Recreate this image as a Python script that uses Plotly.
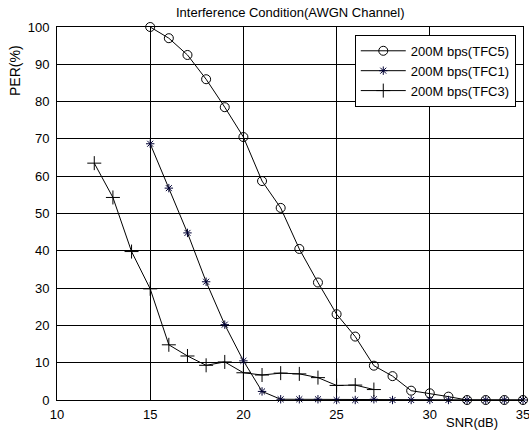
import plotly.graph_objects as go

snr_tfc5 = [15, 16, 17, 18, 19, 20, 21, 22, 23, 24, 25, 26, 27, 28, 29, 30, 31, 32, 33, 34, 35]
per_tfc5 = [100, 97, 92.5, 86, 78.5, 70.5, 58.7, 51.5, 40.5, 31.5, 23, 17, 9.2, 6.4, 2.5, 1.8, 0.9, 0, 0, 0, 0]

snr_tfc1 = [15, 16, 17, 18, 19, 20, 21, 22, 23, 24, 25, 26, 27, 28, 29, 30, 31, 32, 33, 34, 35]
per_tfc1 = [68.7, 56.8, 44.8, 31.7, 20.2, 10.5, 2.3, 0.2, 0.2, 0.2, 0, 0, 0.2, 0, 0, 0, 0, 0, 0, 0, 0]

snr_tfc3 = [12, 13, 14, 15, 16, 17, 18, 19, 20, 21, 22, 23, 24, 25, 26, 27]
per_tfc3 = [63.5, 54.3, 39.8, 29.8, 14.8, 11.8, 9.3, 10.2, 7.3, 6.7, 7.2, 7.0, 6.0, 3.9, 4.0, 2.8]

names = ["200M bps(TFC5)", "200M bps(TFC1)", "200M bps(TFC3)"]
x_ticks = [10, 15, 20, 25, 30, 35]
y_ticks = list(range(0, 101, 10))

fig = go.Figure()
fig.add_trace(go.Scatter(x=snr_tfc5, y=per_tfc5, name=names[0], mode="lines+markers",
                         line=dict(color="black", width=1),
                         marker=dict(symbol="circle-open", size=9, color="black", line=dict(width=1)),
                         cliponaxis=False))
fig.add_trace(go.Scatter(x=snr_tfc1, y=per_tfc1, name=names[1], mode="lines+markers",
                         line=dict(color="black", width=1),
                         marker=dict(symbol="asterisk-open", size=7, color="#000033", line=dict(width=1, color="#000033")),
                         cliponaxis=False))
fig.add_trace(go.Scatter(x=snr_tfc3, y=per_tfc3, name=names[2], mode="lines+markers",
                         line=dict(color="black", width=1),
                         marker=dict(symbol="cross-thin-open", size=10, color="black", line=dict(width=1, color="black")),
                         cliponaxis=False))

fig.update_layout(
    width=529, height=440,
    margin=dict(l=57, r=6, t=27, b=40, autoexpand=False),
    paper_bgcolor="white", plot_bgcolor="white",
    font=dict(family="Liberation Sans, Arial", size=13, color="black"),
    showlegend=True,
    legend=dict(x=0.639, y=0.979, xanchor="left", yanchor="top",
                bordercolor="black", borderwidth=1, bgcolor="white",
                font=dict(size=13), tracegroupgap=0, itemwidth=45),
    annotations=[
        dict(text="Interference Condition(AWGN Channel)", x=0.5, y=1, xref="paper", yref="paper",
             yanchor="bottom", yshift=5, showarrow=False, font=dict(size=13)),
        dict(text="SNR(dB)", x=1, y=0, xref="paper", yref="paper", xanchor="right", yanchor="top",
             xshift=-23, yshift=-13, showarrow=False, font=dict(size=13)),
        dict(text="PER(%)", x=0, y=0.882, xref="paper", yref="paper", xanchor="center", yanchor="middle",
             xshift=-42, textangle=-90, showarrow=False, font=dict(size=14)),
    ],
)
fig.update_xaxes(range=[10, 35], tickvals=x_ticks, showgrid=True, gridcolor="black",
                 gridwidth=1, showline=True, linecolor="black", linewidth=1, mirror=True,
                 zeroline=False, ticks="", ticklabeloverflow="allow", ticklabelstandoff=2,
                 automargin=False)
fig.update_yaxes(range=[0, 100], tickvals=y_ticks, showgrid=True, gridcolor="black",
                 gridwidth=1, showline=True, linecolor="black", linewidth=1, mirror=True,
                 zeroline=False, ticks="", ticklabelstandoff=4, automargin=False)

fig.write_html(
    "out.html",
    config={"displayModeBar": False, "responsive": False},
    post_script="document.body.style.margin='0px';document.documentElement.style.overflow='hidden';",
)
